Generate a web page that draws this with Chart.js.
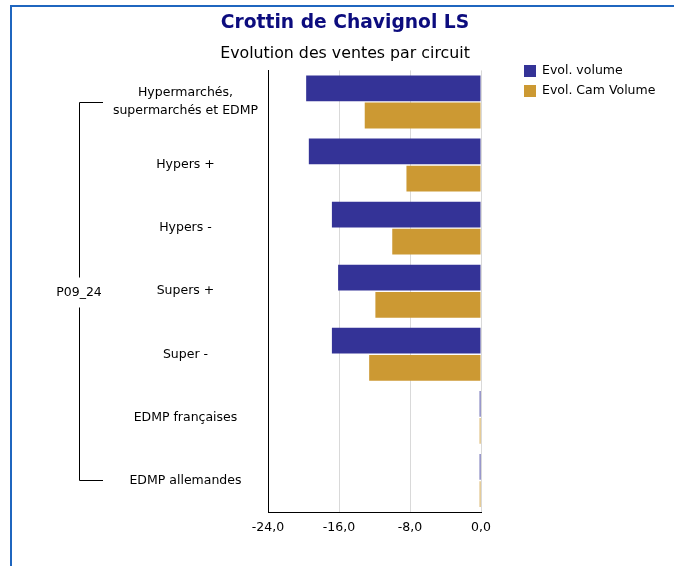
<!DOCTYPE html>
<html>
<head>
<meta charset="utf-8">
<script src="https://cdn.jsdelivr.net/npm/chart.js@4.4.1/dist/chart.umd.min.js"></script>
<style>
  html, body { margin: 0; padding: 0; background: #fff; }
</style>
</head>
<body>
<canvas id="circuitChart" width="674" height="566"></canvas>
<script>
// Données
const circuits = [["Hypermarchés,", "supermarchés et EDMP"], "Hypers +", "Hypers -", "Supers +", "Super -", "EDMP françaises", "EDMP allemandes"];
const evolVolume = [-19.7, -19.4, -16.8, -16.1, -16.8, -0.15, -0.15];
const evolCamVolume = [-13.1, -8.4, -10.0, -11.9, -12.6, -0.15, -0.15];
const periode = "P09_24";
const xTicks = [-24, -16, -8, 0];

const police = '"DejaVu Sans", sans-serif';
Chart.defaults.font.family = police;
Chart.defaults.color = "#000";

// Cadre, accolade de période et légende
const habillage = {
  id: "habillage",
  beforeDraw(chart) {
    const ctx = chart.ctx;
    ctx.save();
    ctx.fillStyle = "#fff";
    ctx.fillRect(0, 0, chart.width, chart.height);
    ctx.restore();
  },
  afterDraw(chart) {
    const ctx = chart.ctx;
    const y = chart.scales.y;
    ctx.save();

    // cadre bleu
    ctx.strokeStyle = "#1f66bf";
    ctx.lineWidth = 2;
    ctx.beginPath();
    ctx.moveTo(11, chart.height + 2);
    ctx.lineTo(11, 6);
    ctx.lineTo(chart.width + 2, 6);
    ctx.stroke();

    // accolade
    const yHaut = Math.round(y.getPixelForValue(0)) + 0.5;
    const yBas = Math.round(y.getPixelForValue(circuits.length - 1)) + 0.5;
    const yMid = (yHaut + yBas) / 2;
    ctx.strokeStyle = "#000";
    ctx.lineWidth = 1;
    ctx.beginPath();
    ctx.moveTo(103, yHaut);
    ctx.lineTo(79.5, yHaut);
    ctx.lineTo(79.5, yMid - 14);
    ctx.moveTo(79.5, yMid + 16);
    ctx.lineTo(79.5, yBas);
    ctx.lineTo(103, yBas);
    ctx.stroke();

    ctx.font = "12.5px " + police;
    ctx.fillStyle = "#000";
    ctx.textAlign = "center";
    ctx.textBaseline = "middle";
    ctx.fillText(periode, 79, yMid + 1);

    // légende
    ctx.textAlign = "left";
    chart.data.datasets.forEach((ds, i) => {
      const ly = 65 + i * 20;
      ctx.fillStyle = ds.backgroundColor;
      ctx.fillRect(524, ly, 12, 12);
      ctx.fillStyle = "#000";
      ctx.fillText(ds.label, 542, ly + 6);
    });

    ctx.restore();
  }
};

new Chart(document.getElementById("circuitChart"), {
  type: "bar",
  data: {
    labels: circuits,
    datasets: [
      {
        label: "Evol. volume",
        data: evolVolume,
        backgroundColor: "#343397",
        categoryPercentage: 0.86,
        barPercentage: 0.95
      },
      {
        label: "Evol. Cam Volume",
        data: evolCamVolume,
        backgroundColor: "#cc9933",
        categoryPercentage: 0.86,
        barPercentage: 0.95
      }
    ]
  },
  options: {
    indexAxis: "y",
    responsive: false,
    animation: false,
    layout: { padding: { left: 16, right: 0, top: 0, bottom: 24 } },
    plugins: {
      legend: { display: false },
      tooltip: { enabled: false },
      title: {
        display: true,
        text: "Crottin de Chavignol LS",
        color: "#0c0c7e",
        font: { size: 18.7, weight: "bold" },
        padding: { top: 12, bottom: 6 }
      },
      subtitle: {
        display: true,
        text: "Evolution des ventes par circuit",
        color: "#000",
        font: { size: 15.8 },
        padding: { top: 4, bottom: 7 }
      }
    },
    scales: {
      x: {
        min: -24,
        max: 0,
        afterBuildTicks: (axis) => { axis.ticks = xTicks.map(v => ({ value: v })); },
        afterFit: (axis) => { axis.height = 30; },
        grid: { color: "#d9d9d9", drawTicks: false },
        border: { color: "#000" },
        ticks: {
          padding: 8,
          font: { size: 12.5 },
          callback: (v) => v.toFixed(1).replace(".", ",")
        }
      },
      y: {
        afterFit: (axis) => { axis.width = 252; },
        grid: { display: false, drawTicks: false },
        border: { color: "#000" },
        ticks: {
          padding: 10,
          crossAlign: "center",
          font: { size: 12.5, lineHeight: 1.45 }
        }
      },
      marge: {
        type: "linear",
        position: "right",
        display: true,
        afterFit: (axis) => { axis.width = 193; },
        grid: { display: false, drawTicks: false },
        border: { display: false },
        ticks: { display: false }
      }
    }
  },
  plugins: [habillage]
});
</script>
</body>
</html>
